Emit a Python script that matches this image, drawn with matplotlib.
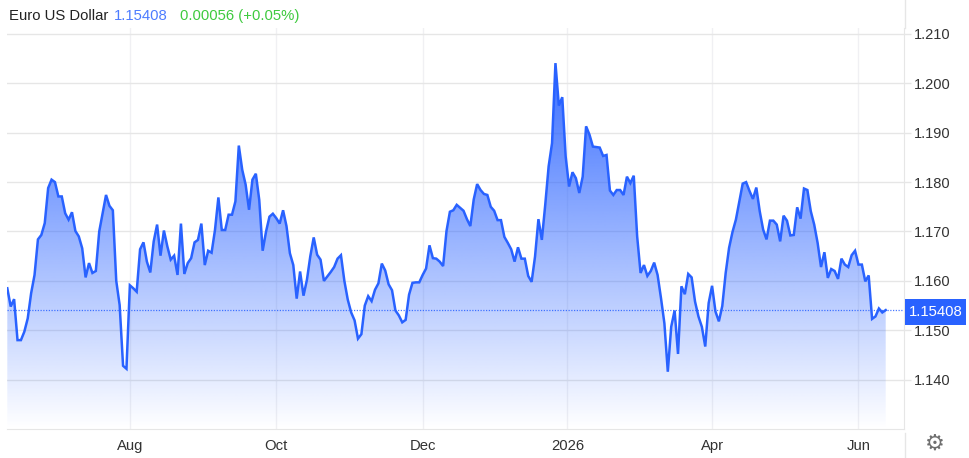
import numpy as np
import matplotlib
matplotlib.use("Agg")
import matplotlib.pyplot as plt
from matplotlib.patches import Polygon, Rectangle

title = "Euro US Dollar"
last_price = 1.15408
change_text = "0.00056 (+0.05%)"
y_ticks = [1.14, 1.15, 1.16, 1.17, 1.18, 1.19, 1.20, 1.21]
x_labels = ["Aug", "Oct", "Dec", "2026", "Apr", "Jun"]
x_positions = [36, 79, 122, 164.5, 207, 250]

values_jul = [1.1585,1.1548,1.1563,1.1480,1.1480,1.1497,1.1524,1.1575,1.1612,1.1684,1.1693,1.1717,
              1.1788,1.1805,1.1800,1.1771,1.1771,1.1737,1.1724,1.1739,1.1701,1.1690,1.1666,1.1607,
              1.1636,1.1616,1.1620,1.1700,1.1737,1.1774,1.1752,1.1743,1.1600,1.1551,1.1428,1.1422]
values_aug = [1.1591,1.1585,1.1578,1.1664,1.1678,1.1639,1.1617,1.1680,1.1714,1.1651,1.1702,1.1670,
              1.1643,1.1651,1.1612,1.1716,1.1614,1.1636,1.1646,1.1678,1.1683,1.1716,1.1632,1.1661,
              1.1657,1.1703,1.1769,1.1703,1.1703,1.1734,1.1734,1.1761,1.1874,1.1825,1.1795,1.1744,
              1.1805,1.1817,1.1764,1.1661,1.1700,1.1730,1.1736]
values_oct = [1.1727,1.1716,1.1743,1.1711,1.1656,1.1632,1.1564,1.1619,1.1570,1.1602,1.1650,1.1688,
              1.1653,1.1643,1.1600,1.1609,1.1618,1.1628,1.1645,1.1652,1.1600,1.1562,1.1536,1.1520,
              1.1483,1.1492,1.1550,1.1569,1.1559,1.1582,1.1595,1.1635,1.1621,1.1593,1.1581,1.1540,
              1.1530,1.1516,1.1521,1.1572,1.1596,1.1597,1.1597]
values_dec = [1.1612,1.1625,1.1672,1.1646,1.1645,1.1639,1.1630,1.1701,1.1740,1.1743,1.1754,1.1748,
              1.1742,1.1725,1.1711,1.1765,1.1796,1.1784,1.1776,1.1774,1.1750,1.1742,1.1723,1.1723,
              1.1689,1.1677,1.1664,1.1639,1.1668,1.1645,1.1645,1.1610,1.1598,1.1649,1.1725,1.1683,
              1.1754,1.1832,1.1879,1.2041,1.1955,1.1972]
values_jan = [1.1852,1.1791,1.1820,1.1808,1.1778,1.1811,1.1913,1.1896,1.1872,1.1871,1.1870,1.1853,
              1.1855,1.1783,1.1774,1.1784,1.1784,1.1774,1.1811,1.1798,1.1813,1.1690,1.1616,1.1632,
              1.1610,1.1620,1.1637,1.1612,1.1565,1.1514,1.1416,1.1507,1.1540,1.1452,1.1589,1.1573,
              1.1614,1.1607,1.1558,1.1528,1.1507,1.1467,1.1555,1.1590]
values_apr = [1.1538,1.1518,1.1549,1.1616,1.1667,1.1699,1.1724,1.1761,1.1797,1.1800,1.1782,1.1766,
              1.1789,1.1741,1.1704,1.1684,1.1722,1.1722,1.1714,1.1680,1.1732,1.1722,1.1692,1.1693,
              1.1749,1.1726,1.1787,1.1784,1.1741,1.1714,1.1677,1.1628,1.1658,1.1606,1.1624,1.1620,
              1.1604,1.1645,1.1633,1.1628,1.1652,1.1661,1.1633,1.1633,1.1599,1.1611,1.1523,1.1528,
              1.1544,1.1536,1.15408]

prices = np.array(values_jul + values_aug + values_oct + values_dec + values_jan + values_apr)
idx = np.arange(len(prices))

W, H = 969, 458
BLUE = "#2962ff"
plt.rcParams["font.family"] = ["Liberation Sans", "DejaVu Sans"]
fig = plt.figure(figsize=(W / 100, H / 100), dpi=100, facecolor="white")
L, R, T, B = 7, 904, 28, 429
ax = fig.add_axes([L / W, 1 - B / H, (R - L) / W, (B - T) / H])

ymin = 1.13
ymax = 1.21 + (34 - T) / 4940
step = (885.7 - 7.3) / (len(prices) - 1)
ax.set_xlim(-0.3 / step, (R - 7.3) / step)
ax.set_ylim(ymin, ymax)

ax.set_yticks(y_ticks)
ax.set_yticklabels([f"{v:.3f}" for v in y_ticks], fontsize=10.5, color="#333333")
ax.set_xticks(x_positions)
ax.set_xticklabels(x_labels, fontsize=10.7, color="#333333")
ax.yaxis.tick_right()
ax.tick_params(axis="y", length=5, width=1, color="#e6e6e6", pad=2)
ax.tick_params(axis="x", length=0, pad=7.5)
ax.grid(axis="y", color="#e6e6e6", lw=1)
ax.grid(axis="x", color="#f0f0f3", lw=1)
ax.set_axisbelow(True)
for s in ("top", "left"):
    ax.spines[s].set_visible(False)
ax.spines["bottom"].set_color("#e6e6e6")
ax.spines["right"].set_color("#e6e6e6")

# gradient area
grad = np.zeros((256, 2, 4))
grad[..., :3] = matplotlib.colors.to_rgb("#2962ff")
grad[..., 3] = np.linspace(0.92, 0.0, 256)[:, None]
im = ax.imshow(grad, extent=(idx[0], idx[-1], ymin, prices.max()), origin="upper",
               aspect="auto", zorder=1.5, interpolation="bilinear")
poly = Polygon(np.vstack([np.column_stack([idx, prices]), [idx[-1], ymin], [idx[0], ymin]]),
               closed=True, transform=ax.transData, fc="none", ec="none")
ax.add_patch(poly)
im.set_clip_path(poly)

ax.plot(idx, prices, color=BLUE, lw=1.8, solid_joinstyle="miter", zorder=3)
ax.axhline(last_price, color=BLUE, lw=0.9, ls=(0, (1, 1.2)), alpha=0.85, zorder=2.5)

# header
def px(x, y):
    return x / W, 1 - y / H

fig.text(*px(9, 16), title, fontsize=10.7, color="#222222", va="center")
fig.text(*px(114, 16), f"{last_price:.5f}", fontsize=10.7, color="#4d7cff", va="center")
fig.text(*px(180, 16), change_text, fontsize=10.7, color="#3fca3f", va="center")

# price tag
fig.add_artist(Rectangle((905 / W, 1 - 325 / H), 61 / W, 26 / H, transform=fig.transFigure,
                         fc=BLUE, ec="none", zorder=5))
fig.text(*px(935.5, 312.5), f"{last_price:.5f}", fontsize=10.7, color="white",
         ha="center", va="center", zorder=6)

# separators and settings glyph
fig.add_artist(plt.Line2D([904.5 / W, 904.5 / W], [1 - 458 / H, 1 - 433 / H],
                          transform=fig.transFigure, color="#e6e6e6", lw=1))
fig.add_artist(plt.Line2D([904.5 / W, 904.5 / W], [1 - 28 / H, 1],
                          transform=fig.transFigure, color="#e6e6e6", lw=1))
fig.text(*px(935, 444), "\u2699", fontsize=16, family="DejaVu Sans", color="#6f6f6f",
         ha="center", va="center")

fig.savefig("out.png", dpi=100)
